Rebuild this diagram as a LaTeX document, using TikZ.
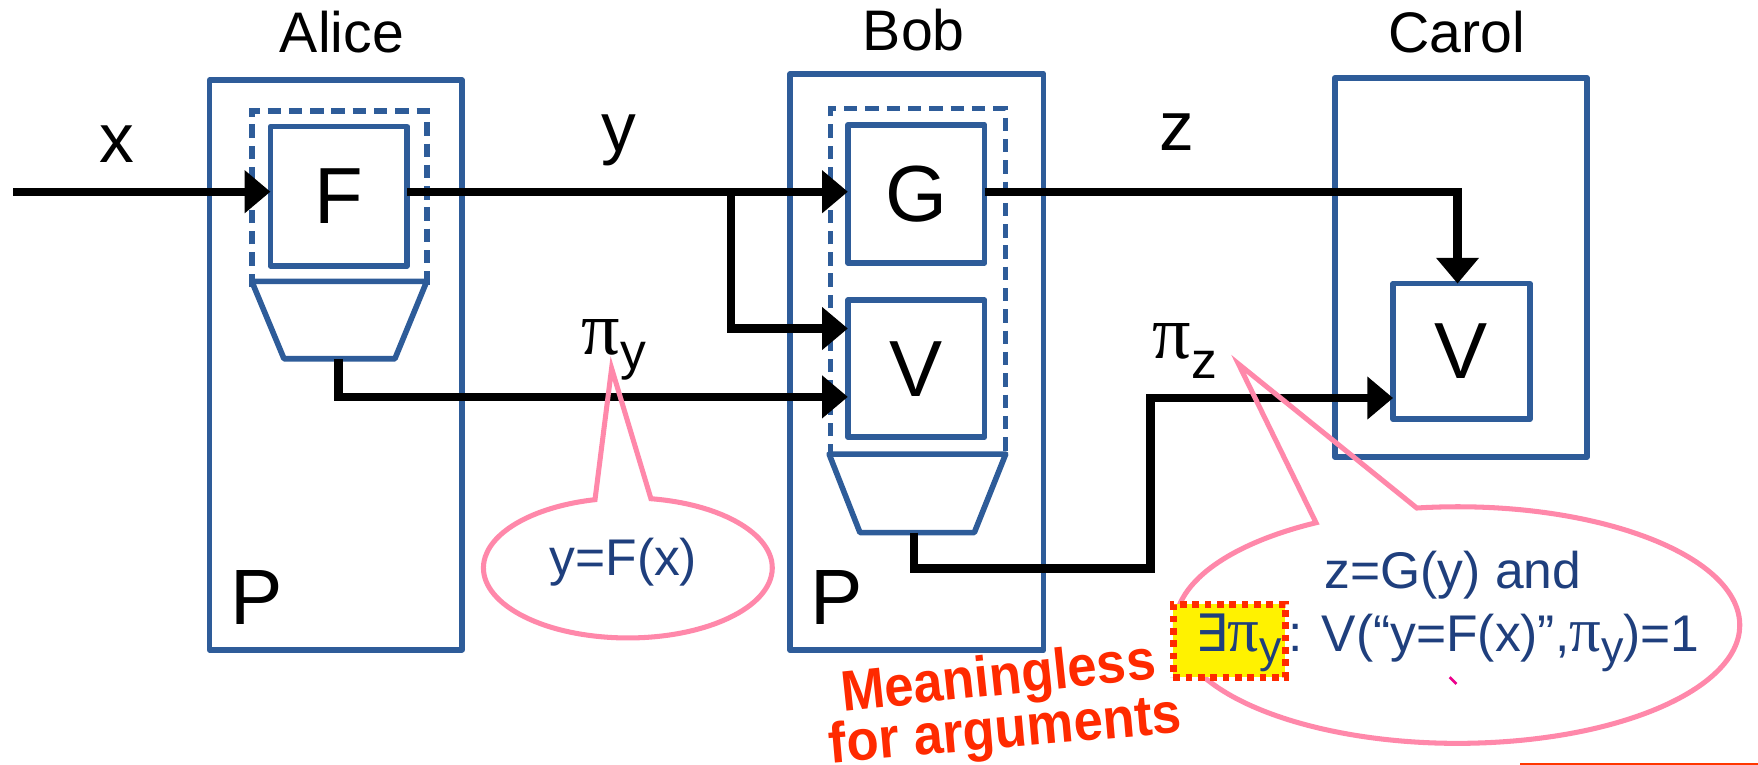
\documentclass[tikz,border=0pt]{standalone}
\usepackage{fontspec}
\setmainfont{Liberation Sans}
\newfontfamily\grk{Liberation Serif}
\newfontfamily\djv{DejaVu Sans}
\usetikzlibrary{arrows.meta,calc}
\definecolor{boxblue}{RGB}{46,92,153}
\definecolor{txtblue}{RGB}{31,63,125}
\definecolor{pinkc}{RGB}{255,136,170}
\definecolor{redc}{RGB}{255,42,0}
\begin{document}
\begin{tikzpicture}[x=1pt,y=-1pt,
  every node/.style={inner sep=0pt, outer sep=0pt},
  blk/.style={draw=boxblue, line width=5pt, line join=round},
  dashln/.style={draw=boxblue, line width=5pt, dash pattern=on 12pt off 7pt},
  flow/.style={line width=7.5pt, -{Triangle[length=23pt,width=37pt]}},
  bubble/.style={draw=pinkc, line width=4.5pt, line join=miter},
  lbl/.style={font=\fontsize{62}{62}\selectfont},
  who/.style={font=\fontsize{51}{51}\selectfont},
  bigl/.style={font=\fontsize{71}{71}\selectfont},
  btxt/.style={text=txtblue, font=\fontsize{46}{46}\selectfont},
  warn/.style={text=redc, font=\bfseries\fontsize{51}{51}\selectfont},
]
\useasboundingbox (0,0) rectangle (1568,682);
\fill[white] (0,0) rectangle (1568,682);

% party boxes
\node[blk, minimum width=225pt, minimum height=508pt] (alice) at (299.5,325.5) {};
\node[blk, minimum width=226pt, minimum height=514pt] (bob) at (817.8,323) {};
\node[blk, minimum width=225pt, minimum height=338pt] (carol) at (1303,238.5) {};

\node[who, anchor=base] (tA) at (305,47) {Alice};
\node[who, anchor=base] (tB) at (815,45) {Bob};
\node[who, anchor=base] (tC) at (1299,47) {Carol};

% Alice internals
\node[minimum width=156pt, minimum height=157pt] (dA) at (302.6,177.5) {};
\draw[dashln] (dA.south west) -- (dA.north west) -- (dA.north east) -- (dA.south east);
\node[blk, minimum width=122pt, minimum height=124pt, bigl] (F) at (302.2,175) {F};
\draw[blk, fill=white] (224.6,251) -- (380.6,251) -- (352.2,320) -- (253.3,320) -- cycle;
\coordinate (aout) at (302,320);
\coordinate (aturn) at (302,354);

% Bob internals
\node[minimum width=156pt, minimum height=311pt] (dB) at (818.8,252.4) {};
\draw[dashln] (dB.south west) -- (dB.north west) -- (dB.north east) -- (dB.south east);
\node[blk, minimum width=122pt, minimum height=123pt, bigl] (G) at (817.2,172.9) {G};
\node[blk, minimum width=122pt, minimum height=122pt, bigl] (Vb) at (817.2,328.8) {V};
\draw[blk, fill=white] (739.5,405) -- (897,405) -- (869,475) -- (767,475) -- cycle;
\coordinate (bout) at (815,475);
\coordinate (bt1) at (815,507);
\coordinate (bt2) at (1026,507);
\coordinate (bt3) at (1026,355);

% Carol internals
\node[blk, minimum width=122pt, minimum height=121pt, bigl] (Vc) at (1303.5,313.4) {V};

% P labels
\node[anchor=base west, font=\fontsize{70}{70}\selectfont] (PA) at (206,557) {P};
\node[anchor=base west, font=\fontsize{70}{70}\selectfont] (PB) at (723,557) {P};

% connectors
\coordinate (xin) at (12,171);
\coordinate (br) at (652,171);
\coordinate (brv) at (652,293);
\coordinate (zc) at (1300,171);
\draw[flow] (xin) -- (xin -| F.west);
\draw[flow] (F.east |- xin) -- (br) -- (xin -| G.west);
\draw[flow] (br) -- (brv) -- (brv -| Vb.west);
\draw[flow] (aout) -- (aturn) -- (aturn -| Vb.west);
\draw[flow] (G.east |- zc) -- (zc) -- (zc |- Vc.north);
\draw[flow] (bout) -- (bt1) -- (bt2) -- (bt3) -- (bt3 -| Vc.west);

% edge labels
\node[lbl, anchor=base] (lx) at (104,145) {x};
\node[lbl, anchor=base] (ly) at (552,135) {y};
\node[lbl, anchor=base] (lz) at (1050,134) {z};
\node[anchor=base west] (piy) at (519,316) {{\grk\fontsize{68}{68}\selectfont π}{\fontsize{46}{46}\selectfont\raisebox{-14pt}{y}}};
\node[anchor=base west] (piz) at (1028,320) {{\grk\fontsize{68}{68}\selectfont π}{\fontsize{46}{46}\selectfont\raisebox{-18pt}{z}}};

% bubble 1
\coordinate (c1) at (560,506.5);
\coordinate (tip1) at (545.5,328.5);
\draw[bubble] (tip1) -- ($(c1)+(-80.8:128.8 and 62.5)$) arc[start angle=-80.8, end angle=256.85, x radius=128.8, y radius=62.5] -- cycle;
\node[btxt, anchor=base] (yfx) at (556,513) {y=F(x)};

% bubble 2
\coordinate (c2) at (1300,557.5);
\coordinate (tip2) at (1104.6,324.6);
\draw[bubble] (tip2) -- ($(c2)+(-98.3:251.7 and 105.5)$) arc[start angle=-98.3, end angle=239.9, x radius=251.7, y radius=105.5] -- cycle;
\node[btxt, anchor=base] (l1) at (1296,525) {z=G(y) and};
\node[fill=yellow, draw=redc, line width=6pt, dash pattern=on 6pt off 5pt, minimum width=100pt, minimum height=65pt] (exbox) at (1096.5,571.5) {};
\node[btxt, anchor=base west] (exi) at (1066,581) {{\djv ∃}{\grk\fontsize{56}{56}\selectfont π}\raisebox{-10pt}{\fontsize{40}{40}\selectfont y}};
\node[btxt, anchor=base west] (l2) at (1149,581) {: V(“y=F(x)”,{\grk\fontsize{56}{56}\selectfont π}\raisebox{-10pt}{\fontsize{40}{40}\selectfont y})=1};

% warning text
\node[warn, anchor=base, rotate=6, xscale=0.92] (w1) at (892,620) {Meaningless};
\node[warn, anchor=base, rotate=5, xscale=0.92] (w2) at (898,667) {for arguments};

% small marks
\draw[magenta, line width=2.5pt] (1293,604) -- (1299,610);
\draw[redc!85!orange, line width=1.2pt] (1356,681.3) -- (1568,681.3);
\end{tikzpicture}
\end{document}
